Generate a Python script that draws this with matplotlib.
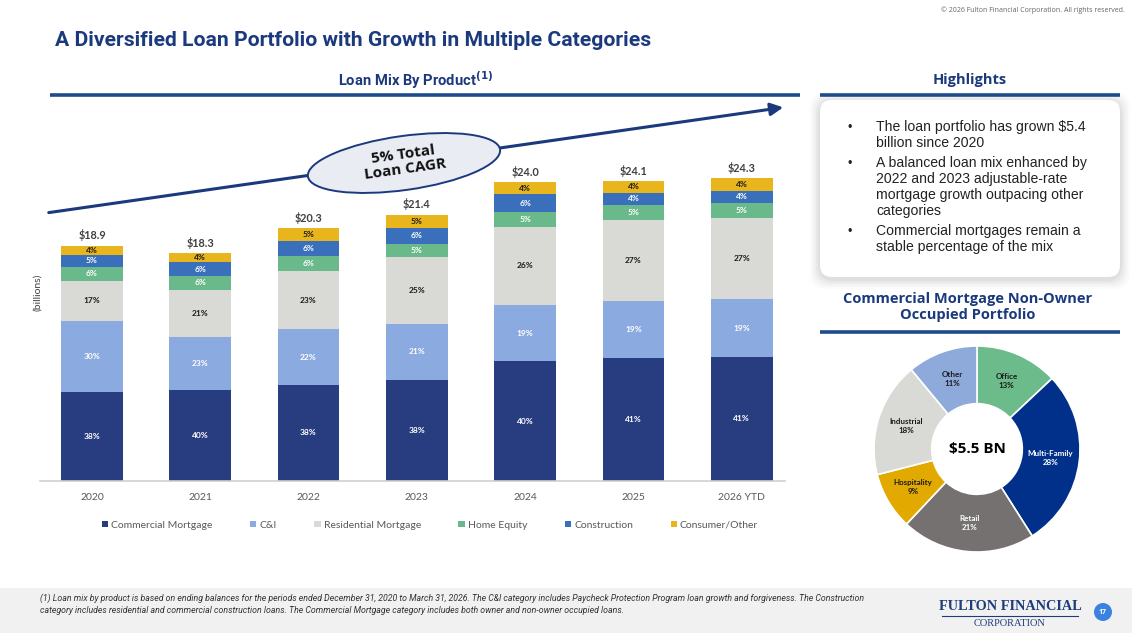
import matplotlib
matplotlib.use("Agg")
import matplotlib.pyplot as plt
from matplotlib.patches import Ellipse, FancyBboxPatch, Rectangle, Circle, FancyArrowPatch
import numpy as np

# ---------------- data ----------------
years = ["2020", "2021", "2022", "2023", "2024", "2025", "2026 YTD"]
totals = [18.9, 18.3, 20.3, 21.4, 24.0, 24.1, 24.3]
categories = ["Commercial Mortgage", "C&I", "Residential Mortgage",
              "Home Equity", "Construction", "Consumer/Other"]
pct_commercial = [38, 40, 38, 38, 40, 41, 41]
pct_ci = [30, 23, 22, 21, 19, 19, 19]
pct_residential = [17, 21, 23, 25, 26, 27, 27]
pct_home_equity = [6, 6, 6, 5, 5, 5, 5]
pct_construction = [5, 6, 6, 6, 6, 4, 4]
pct_consumer = [4, 4, 5, 5, 4, 4, 4]

donut_labels = ["Office", "Multi-Family", "Retail", "Hospitality", "Industrial", "Other"]
donut_values = [13, 28, 21, 9, 18, 11]
donut_total = "$5.5 BN"

highlights = [
    "The loan portfolio has grown $5.4\nbillion since 2020",
    "A balanced loan mix enhanced by\n2022 and 2023 adjustable-rate\nmortgage growth outpacing other\ncategories",
    "Commercial mortgages remain a\nstable percentage of the mix",
]

# ---------------- styles ----------------
bar_colors = ["#283C80", "#8AAAE0", "#D9D9D5", "#69B98A", "#3A6FBB", "#E9B51C"]
bar_text_colors = ["white", "white", "#1a1a1a", "white", "white", "#1a1a1a"]
donut_colors = ["#6CBB8A", "#00308A", "#757171", "#E2A900", "#D9D9D6", "#8EAADB"]
donut_text_colors = ["#1a1a1a", "white", "white", "#1a1a1a", "#1a1a1a", "#1a1a1a"]
NAVY = "#1B3A7D"
RULE = "#1D4B8B"

W, H = 1132, 633
fig = plt.figure(figsize=(W / 100, H / 100), dpi=100)
fig.patch.set_facecolor("white")

def fx(x):
    return x / W

def fy(y):
    return 1 - y / H

# background overlay (pixel coords)
bg = fig.add_axes([0, 0, 1, 1], zorder=0)
bg.set_xlim(0, W)
bg.set_ylim(H, 0)
bg.axis("off")

# footer band
bg.add_patch(Rectangle((0, 588), W, 45, facecolor="#F1F1F1", edgecolor="none"))

# highlights box with soft shadow
for i, a in enumerate([0.015, 0.02, 0.025, 0.03, 0.035]):
    pad = 10 - i * 2
    bg.add_patch(FancyBboxPatch((820 - pad, 100 - pad + 2), 300 + 2 * pad, 177 + 2 * pad,
                                boxstyle="round,pad=0,rounding_size=16",
                                facecolor="black", edgecolor="none", alpha=a))
bg.add_patch(FancyBboxPatch((820, 100), 300, 177, boxstyle="round,pad=0,rounding_size=12",
                            facecolor="white", edgecolor="none"))

# section rules
bg.plot([50, 800], [95, 95], color=RULE, lw=2.6, solid_capstyle="butt")
bg.plot([820, 1120], [95, 95], color=RULE, lw=2.6, solid_capstyle="butt")
bg.plot([820, 1120], [332, 332], color=RULE, lw=2.6, solid_capstyle="butt")

# ---------------- texts ----------------
fig.text(fx(1125), fy(10), "© 2026 Fulton Financial Corporation. All rights reserved.",
         ha="right", va="center", fontsize=5, color="#666666", family="Open Sans")
fig.text(fx(55), fy(40), "A Diversified Loan Portfolio with Growth in Multiple Categories",
         ha="left", va="center", fontsize=15.2, fontweight="bold", color=NAVY, family="Roboto")
fig.text(fx(416), fy(80), r"Loan Mix By Product$^{\mathbf{(1)}}$", ha="center", va="center",
         fontsize=10.6, fontweight="bold", color=NAVY, family="Roboto")
fig.text(fx(970), fy(80), "Highlights", ha="center", va="center",
         fontsize=10.5, fontweight="bold", color=NAVY, family="Open Sans")
fig.text(fx(968), fy(307), "Commercial Mortgage Non-Owner\nOccupied Portfolio", ha="center",
         va="center", fontsize=10.5, fontweight="bold", color=NAVY, family="Open Sans",
         linespacing=1.2)

ys = [128, 164, 232]
for y0, t in zip(ys, highlights):
    fig.text(fx(847), fy(y0), "•", ha="left", va="center", fontsize=9, color="#222222",
             family="Liberation Sans")
    fig.text(fx(876), fy(y0 - 7.5), t, ha="left", va="top", fontsize=10.1, color="#222222",
             family="Liberation Sans", linespacing=1.17)

fig.text(fx(40), fy(604),
         "(1) Loan mix by product is based on ending balances for the periods ended December 31, 2020 to March 31, 2026. "
         "The C&I category includes Paycheck Protection Program loan growth and forgiveness. The Construction\n"
         "category includes residential and commercial construction loans. The Commercial Mortgage category includes "
         "both owner and non-owner occupied loans.",
         ha="left", va="center", fontsize=6.3, style="italic", color="#333333",
         family="Roboto", linespacing=1.45)

# logo
fig.text(fx(1010), fy(606), "FULTON FINANCIAL", ha="center", va="center", fontsize=10.3,
         color="#1E3C7A", family="Liberation Serif", fontweight="bold")
bg.plot([942, 1078], [615.5, 615.5], color="#1E3C7A", lw=0.8)
fig.text(fx(1010), fy(624), "CORPORATION", ha="center", va="center", fontsize=7.5,
         color="#1E3C7A", family="Liberation Serif")
bg.add_patch(Circle((1103, 612), 9, facecolor="#3B82E0", edgecolor="none"))
fig.text(fx(1103), fy(612), "17", ha="center", va="center", fontsize=5, color="white",
         fontweight="bold", family="Open Sans")

# ---------------- bar chart ----------------
ax = fig.add_axes([fx(40), fy(481), (785 - 40) / W, (481 - 150) / H], zorder=2)
ax.patch.set_alpha(0)
x = np.arange(len(years))
series = [pct_commercial, pct_ci, pct_residential, pct_home_equity, pct_construction, pct_consumer]
bottoms = np.zeros(len(years))
tot = np.array(totals)
for name, pct, col, tcol in zip(categories, series, bar_colors, bar_text_colors):
    vals = tot * np.array(pct) / 100.0
    ax.bar(x, vals, 0.57, bottom=bottoms, color=col, label=name, edgecolor="none")
    for xi, b, v, p in zip(x, bottoms, vals, pct):
        ax.text(xi, b + v / 2, f"{p}%", ha="center", va="center", fontsize=6,
                fontweight="bold", color=tcol, family="Lato")
    bottoms = bottoms + vals
for xi, t in zip(x, totals):
    ax.text(xi, t + 0.35, f"${t:.1f}", ha="center", va="bottom", fontsize=7.8,
            fontweight="bold", color="#404040", family="Lato")

ax.set_xlim(-0.48, 6.40)
ax.set_ylim(0, 331 / 12.45)
ax.set_xticks(x)
ax.set_xticklabels(years, fontsize=7.5, color="#595959", family="Lato")
ax.tick_params(axis="x", length=0, pad=9)
ax.set_yticks([])
for s in ["top", "right", "left"]:
    ax.spines[s].set_visible(False)
ax.spines["bottom"].set_color("#D0D0D0")
ax.spines["bottom"].set_linewidth(1.2)
fig.text(fx(38), fy(292), "(billions)", rotation=90, ha="center", va="center",
         fontsize=7.5, color="#404040", family="Lato")

handles, labels = ax.get_legend_handles_labels()
leg = fig.legend(handles, labels, loc="center", bbox_to_anchor=(fx(430), fy(525)), ncol=6,
                 frameon=False, handlelength=0.6, handleheight=0.6,
                 handletextpad=0.3, columnspacing=3.6,
                 prop={"family": "Lato", "size": 7.5})
for t in leg.get_texts():
    t.set_color("#595959")

# ---------------- CAGR arrow + ellipse ----------------
fg = fig.add_axes([0, 0, 1, 1], zorder=5)
fg.set_xlim(0, W)
fg.set_ylim(H, 0)
fg.axis("off")
fg.patch.set_alpha(0)
fg.add_patch(FancyArrowPatch((46, 213), (786, 107), arrowstyle="-|>,head_length=5,head_width=2.5",
                             color="#1B3A7D", lw=2.2, mutation_scale=1.5))
fg.add_patch(Ellipse((404, 163), 194, 54, angle=-8, facecolor="#E9ECF3", edgecolor="#1B3A7D",
                     lw=1.4))
fg.text(404, 162, "5% Total\nLoan CAGR", ha="center", va="center", rotation=8,
        fontsize=11, fontweight="bold", color="#111111", family="Open Sans", linespacing=1.15)

# ---------------- donut ----------------
dax = fig.add_axes([fx(874), fy(552), 206 / W, 206 / H], zorder=2)
wedges, _ = dax.pie(donut_values, colors=donut_colors, startangle=90, counterclock=False,
                    radius=1.0, wedgeprops=dict(width=0.56, edgecolor="white", linewidth=1.2))
for w, lab, v, tc in zip(wedges, donut_labels, donut_values, donut_text_colors):
    ang = np.deg2rad((w.theta1 + w.theta2) / 2)
    r = 0.72
    dax.text(r * np.cos(ang), r * np.sin(ang), f"{lab}\n{v}%", ha="center", va="center",
             fontsize=5.8, fontweight="bold", color=tc, family="Lato", linespacing=1.3)
dax.text(0, 0, donut_total, ha="center", va="center", fontsize=11, fontweight="bold",
         color="black", family="Open Sans")
dax.set_xlim(-1, 1)
dax.set_ylim(-1, 1)
dax.set_aspect("equal")

fig.savefig("out.png", dpi=100)
